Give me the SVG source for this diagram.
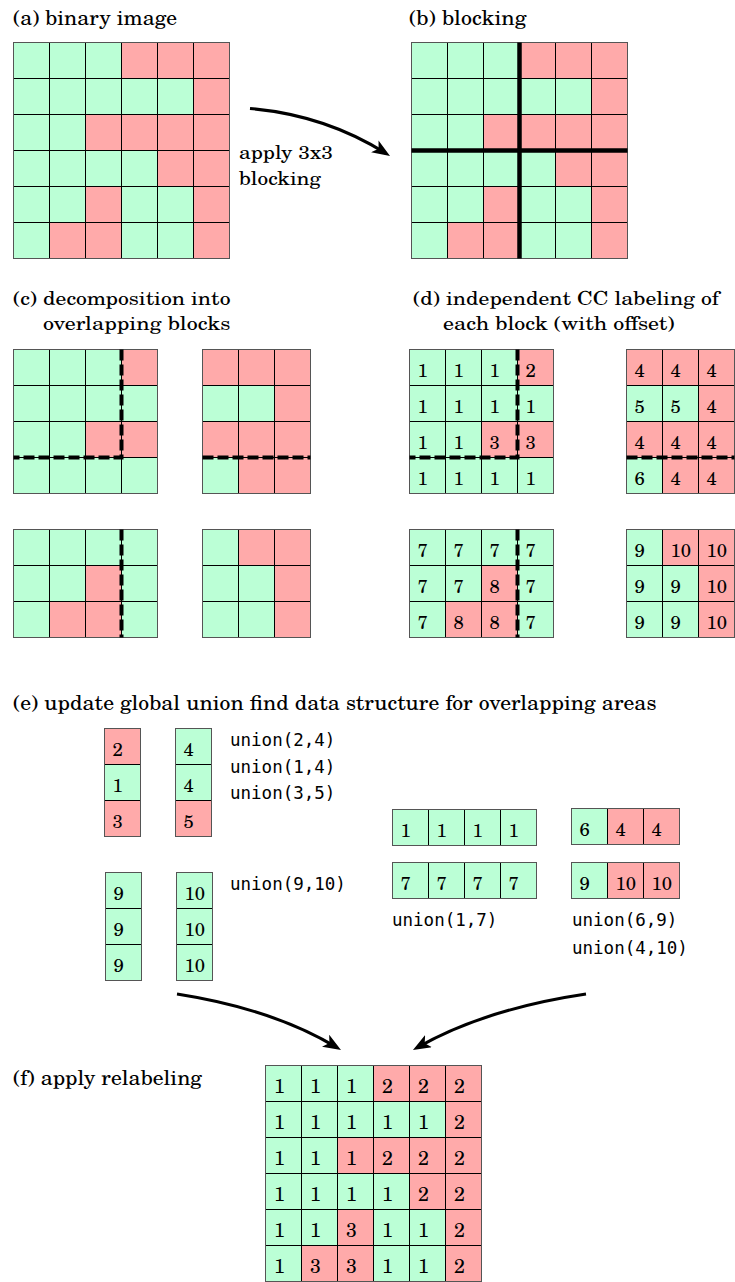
<svg xmlns="http://www.w3.org/2000/svg" width="735" height="1282" viewBox="0 0 735 1282">
  <style>
    .g { fill: #bbffd6; stroke: #000; stroke-width: 1; }
    .r { fill: #ffaaaa; stroke: #000; stroke-width: 1; }
    .frame { fill: none; stroke: #555; stroke-width: 1; }
    .t, .t2, .n, .nf { font-family: "C059", "TeX Gyre Schola", "Century Schoolbook L", "Century Schoolbook", "Liberation Serif", "DejaVu Serif", "Noto Serif", "Tinos", "Times New Roman", "Nimbus Roman", "FreeSerif", serif; fill: #000; }
    .t { font-size: 20px; }
    .t2 { font-size: 19px; }
    .n { font-size: 18.5px; }
    .nf { font-size: 19.5px; }
    .m { font-family: "DejaVu Sans Mono", "Liberation Mono", monospace; font-size: 17.5px; fill: #000; }
    .thick { stroke: #000; stroke-width: 4.5; }
    .dash { stroke: #000; stroke-width: 4; stroke-dasharray: 11 4; fill: none; }
    .arrow { fill: none; stroke: #000; stroke-width: 3; marker-end: url(#head); }
  </style>
  <defs>
    <rect id="G" class="g" width="36" height="36"/>
    <rect id="R" class="r" width="36" height="36"/>
    <marker id="head" viewBox="0 0 18 14" refX="13" refY="7" markerWidth="18" markerHeight="14" markerUnits="userSpaceOnUse" orient="auto">
      <path d="M0,0 L18,7 L0,14 L4.5,7 Z" fill="#000"/>
    </marker>
  </defs>

  <!-- panel titles and captions -->
  <g id="titles">
    <text class="t" x="13" y="25" textLength="164" lengthAdjust="spacingAndGlyphs">(a) binary image</text>
    <text class="t" x="409" y="25" textLength="117.5" lengthAdjust="spacingAndGlyphs">(b) blocking</text>
    <text class="t2"><tspan x="239" y="159" textLength="94" lengthAdjust="spacingAndGlyphs">apply 3x3</tspan><tspan x="239" y="184.5" textLength="82" lengthAdjust="spacingAndGlyphs">blocking</tspan></text>
    <text class="t2"><tspan x="13" y="304.5" textLength="217.5" lengthAdjust="spacingAndGlyphs">(c) decomposition into</tspan><tspan x="43" y="330" textLength="187.5" lengthAdjust="spacingAndGlyphs">overlapping blocks</tspan></text>
    <text class="t2"><tspan x="413" y="304.5" textLength="306" lengthAdjust="spacingAndGlyphs">(d) independent CC labeling of</tspan><tspan x="443" y="330" textLength="231.5" lengthAdjust="spacingAndGlyphs">each block (with offset)</tspan></text>
    <text class="t" x="13" y="710" textLength="643.5" lengthAdjust="spacingAndGlyphs">(e) update global union find data structure for overlapping areas</text>
    <text class="t" x="13" y="1085" textLength="189" lengthAdjust="spacingAndGlyphs">(f) apply relabeling</text>
  </g>

  <!-- (a) binary image -->
  <g id="binary-image" transform="translate(13.5,42.5)">
    <use href="#G" x="0" y="0"/><use href="#G" x="36" y="0"/><use href="#G" x="72" y="0"/><use href="#R" x="108" y="0"/><use href="#R" x="144" y="0"/><use href="#R" x="180" y="0"/>
    <use href="#G" x="0" y="36"/><use href="#G" x="36" y="36"/><use href="#G" x="72" y="36"/><use href="#G" x="108" y="36"/><use href="#G" x="144" y="36"/><use href="#R" x="180" y="36"/>
    <use href="#G" x="0" y="72"/><use href="#G" x="36" y="72"/><use href="#R" x="72" y="72"/><use href="#R" x="108" y="72"/><use href="#R" x="144" y="72"/><use href="#R" x="180" y="72"/>
    <use href="#G" x="0" y="108"/><use href="#G" x="36" y="108"/><use href="#G" x="72" y="108"/><use href="#G" x="108" y="108"/><use href="#R" x="144" y="108"/><use href="#R" x="180" y="108"/>
    <use href="#G" x="0" y="144"/><use href="#G" x="36" y="144"/><use href="#R" x="72" y="144"/><use href="#G" x="108" y="144"/><use href="#G" x="144" y="144"/><use href="#R" x="180" y="144"/>
    <use href="#G" x="0" y="180"/><use href="#R" x="36" y="180"/><use href="#R" x="72" y="180"/><use href="#G" x="108" y="180"/><use href="#G" x="144" y="180"/><use href="#R" x="180" y="180"/>
    <rect class="frame" width="216" height="216"/>
  </g>

  <!-- (b) blocking -->
  <g id="blocking" transform="translate(411.5,42.5)">
    <use href="#G" x="0" y="0"/><use href="#G" x="36" y="0"/><use href="#G" x="72" y="0"/><use href="#R" x="108" y="0"/><use href="#R" x="144" y="0"/><use href="#R" x="180" y="0"/>
    <use href="#G" x="0" y="36"/><use href="#G" x="36" y="36"/><use href="#G" x="72" y="36"/><use href="#G" x="108" y="36"/><use href="#G" x="144" y="36"/><use href="#R" x="180" y="36"/>
    <use href="#G" x="0" y="72"/><use href="#G" x="36" y="72"/><use href="#R" x="72" y="72"/><use href="#R" x="108" y="72"/><use href="#R" x="144" y="72"/><use href="#R" x="180" y="72"/>
    <use href="#G" x="0" y="108"/><use href="#G" x="36" y="108"/><use href="#G" x="72" y="108"/><use href="#G" x="108" y="108"/><use href="#R" x="144" y="108"/><use href="#R" x="180" y="108"/>
    <use href="#G" x="0" y="144"/><use href="#G" x="36" y="144"/><use href="#R" x="72" y="144"/><use href="#G" x="108" y="144"/><use href="#G" x="144" y="144"/><use href="#R" x="180" y="144"/>
    <use href="#G" x="0" y="180"/><use href="#R" x="36" y="180"/><use href="#R" x="72" y="180"/><use href="#G" x="108" y="180"/><use href="#G" x="144" y="180"/><use href="#R" x="180" y="180"/>
    <rect class="frame" width="216" height="216"/>
    <line class="thick" x1="108" y1="0" x2="108" y2="216"/>
    <line class="thick" x1="0" y1="108" x2="216" y2="108"/>
  </g>

  <!-- (c) overlapping blocks -->
  <g id="block-c-tl" transform="translate(13.5,349.5)">
    <use href="#G" x="0" y="0"/><use href="#G" x="36" y="0"/><use href="#G" x="72" y="0"/><use href="#R" x="108" y="0"/>
    <use href="#G" x="0" y="36"/><use href="#G" x="36" y="36"/><use href="#G" x="72" y="36"/><use href="#G" x="108" y="36"/>
    <use href="#G" x="0" y="72"/><use href="#G" x="36" y="72"/><use href="#R" x="72" y="72"/><use href="#R" x="108" y="72"/>
    <use href="#G" x="0" y="108"/><use href="#G" x="36" y="108"/><use href="#G" x="72" y="108"/><use href="#G" x="108" y="108"/>
    <rect class="frame" width="144" height="144"/>
    <path class="dash" d="M108,0 V108 H0"/>
  </g>
  <g id="block-c-tr" transform="translate(202.5,349.5)">
    <use href="#R" x="0" y="0"/><use href="#R" x="36" y="0"/><use href="#R" x="72" y="0"/>
    <use href="#G" x="0" y="36"/><use href="#G" x="36" y="36"/><use href="#R" x="72" y="36"/>
    <use href="#R" x="0" y="72"/><use href="#R" x="36" y="72"/><use href="#R" x="72" y="72"/>
    <use href="#G" x="0" y="108"/><use href="#R" x="36" y="108"/><use href="#R" x="72" y="108"/>
    <rect class="frame" width="108" height="144"/>
    <path class="dash" d="M0,108 H108"/>
  </g>
  <g id="block-c-bl" transform="translate(13.5,529.5)">
    <use href="#G" x="0" y="0"/><use href="#G" x="36" y="0"/><use href="#G" x="72" y="0"/><use href="#G" x="108" y="0"/>
    <use href="#G" x="0" y="36"/><use href="#G" x="36" y="36"/><use href="#R" x="72" y="36"/><use href="#G" x="108" y="36"/>
    <use href="#G" x="0" y="72"/><use href="#R" x="36" y="72"/><use href="#R" x="72" y="72"/><use href="#G" x="108" y="72"/>
    <rect class="frame" width="144" height="108"/>
    <path class="dash" d="M108,0 V108"/>
  </g>
  <g id="block-c-br" transform="translate(202.5,529.5)">
    <use href="#G" x="0" y="0"/><use href="#R" x="36" y="0"/><use href="#R" x="72" y="0"/>
    <use href="#G" x="0" y="36"/><use href="#G" x="36" y="36"/><use href="#R" x="72" y="36"/>
    <use href="#G" x="0" y="72"/><use href="#G" x="36" y="72"/><use href="#R" x="72" y="72"/>
    <rect class="frame" width="108" height="108"/>
  </g>

  <!-- (d) labeled blocks -->
  <g id="block-d-tl" transform="translate(409.5,349.5)">
    <use href="#G" x="0" y="0"/><use href="#G" x="36" y="0"/><use href="#G" x="72" y="0"/><use href="#R" x="108" y="0"/>
    <use href="#G" x="0" y="36"/><use href="#G" x="36" y="36"/><use href="#G" x="72" y="36"/><use href="#G" x="108" y="36"/>
    <use href="#G" x="0" y="72"/><use href="#G" x="36" y="72"/><use href="#R" x="72" y="72"/><use href="#R" x="108" y="72"/>
    <use href="#G" x="0" y="108"/><use href="#G" x="36" y="108"/><use href="#G" x="72" y="108"/><use href="#G" x="108" y="108"/>
    <rect class="frame" width="144" height="144"/>
    <path class="dash" d="M108,0 V108 H0"/>
    <text class="n" x="8" y="27.5">1</text><text class="n" x="44" y="27.5">1</text><text class="n" x="80" y="27.5">1</text><text class="n" x="116" y="27.5">2</text>
    <text class="n" x="8" y="63.5">1</text><text class="n" x="44" y="63.5">1</text><text class="n" x="80" y="63.5">1</text><text class="n" x="116" y="63.5">1</text>
    <text class="n" x="8" y="99.5">1</text><text class="n" x="44" y="99.5">1</text><text class="n" x="80" y="99.5">3</text><text class="n" x="116" y="99.5">3</text>
    <text class="n" x="8" y="135.5">1</text><text class="n" x="44" y="135.5">1</text><text class="n" x="80" y="135.5">1</text><text class="n" x="116" y="135.5">1</text>
  </g>
  <g id="block-d-tr" transform="translate(626.5,349.5)">
    <use href="#R" x="0" y="0"/><use href="#R" x="36" y="0"/><use href="#R" x="72" y="0"/>
    <use href="#G" x="0" y="36"/><use href="#G" x="36" y="36"/><use href="#R" x="72" y="36"/>
    <use href="#R" x="0" y="72"/><use href="#R" x="36" y="72"/><use href="#R" x="72" y="72"/>
    <use href="#G" x="0" y="108"/><use href="#R" x="36" y="108"/><use href="#R" x="72" y="108"/>
    <rect class="frame" width="108" height="144"/>
    <path class="dash" d="M0,108 H108"/>
    <text class="n" x="8" y="27.5">4</text><text class="n" x="44" y="27.5">4</text><text class="n" x="80" y="27.5">4</text>
    <text class="n" x="8" y="63.5">5</text><text class="n" x="44" y="63.5">5</text><text class="n" x="80" y="63.5">4</text>
    <text class="n" x="8" y="99.5">4</text><text class="n" x="44" y="99.5">4</text><text class="n" x="80" y="99.5">4</text>
    <text class="n" x="8" y="135.5">6</text><text class="n" x="44" y="135.5">4</text><text class="n" x="80" y="135.5">4</text>
  </g>
  <g id="block-d-bl" transform="translate(409.5,529.5)">
    <use href="#G" x="0" y="0"/><use href="#G" x="36" y="0"/><use href="#G" x="72" y="0"/><use href="#G" x="108" y="0"/>
    <use href="#G" x="0" y="36"/><use href="#G" x="36" y="36"/><use href="#R" x="72" y="36"/><use href="#G" x="108" y="36"/>
    <use href="#G" x="0" y="72"/><use href="#R" x="36" y="72"/><use href="#R" x="72" y="72"/><use href="#G" x="108" y="72"/>
    <rect class="frame" width="144" height="108"/>
    <path class="dash" d="M108,0 V108"/>
    <text class="n" x="8" y="27.5">7</text><text class="n" x="44" y="27.5">7</text><text class="n" x="80" y="27.5">7</text><text class="n" x="116" y="27.5">7</text>
    <text class="n" x="8" y="63.5">7</text><text class="n" x="44" y="63.5">7</text><text class="n" x="80" y="63.5">8</text><text class="n" x="116" y="63.5">7</text>
    <text class="n" x="8" y="99.5">7</text><text class="n" x="44" y="99.5">8</text><text class="n" x="80" y="99.5">8</text><text class="n" x="116" y="99.5">7</text>
  </g>
  <g id="block-d-br" transform="translate(626.5,529.5)">
    <use href="#G" x="0" y="0"/><use href="#R" x="36" y="0"/><use href="#R" x="72" y="0"/>
    <use href="#G" x="0" y="36"/><use href="#G" x="36" y="36"/><use href="#R" x="72" y="36"/>
    <use href="#G" x="0" y="72"/><use href="#G" x="36" y="72"/><use href="#R" x="72" y="72"/>
    <rect class="frame" width="108" height="108"/>
    <text class="n" x="8" y="27.5">9</text><text class="n" x="44" y="27.5">10</text><text class="n" x="80" y="27.5">10</text>
    <text class="n" x="8" y="63.5">9</text><text class="n" x="44" y="63.5">9</text><text class="n" x="80" y="63.5">10</text>
    <text class="n" x="8" y="99.5">9</text><text class="n" x="44" y="99.5">9</text><text class="n" x="80" y="99.5">10</text>
  </g>

  <!-- (e) overlap strips and union operations -->
  <g id="strip-e-col1" transform="translate(104.5,728.5)">
    <use href="#R" x="0" y="0"/><use href="#G" x="0" y="36"/><use href="#R" x="0" y="72"/>
    <rect class="frame" width="36" height="108"/>
    <text class="n" x="8" y="27">2</text><text class="n" x="8" y="63">1</text><text class="n" x="8" y="99">3</text>
  </g>
  <g id="strip-e-col2" transform="translate(175.5,728.5)">
    <use href="#G" x="0" y="0"/><use href="#G" x="0" y="36"/><use href="#R" x="0" y="72"/>
    <rect class="frame" width="36" height="108"/>
    <text class="n" x="8" y="27">4</text><text class="n" x="8" y="63">4</text><text class="n" x="8" y="99">5</text>
  </g>
  <g id="strip-e-col3" transform="translate(105.5,872.5)">
    <use href="#G" x="0" y="0"/><use href="#G" x="0" y="36"/><use href="#G" x="0" y="72"/>
    <rect class="frame" width="36" height="108"/>
    <text class="n" x="8" y="27">9</text><text class="n" x="8" y="63">9</text><text class="n" x="8" y="99">9</text>
  </g>
  <g id="strip-e-col4" transform="translate(176.5,872.5)">
    <use href="#G" x="0" y="0"/><use href="#G" x="0" y="36"/><use href="#G" x="0" y="72"/>
    <rect class="frame" width="36" height="108"/>
    <text class="n" x="8" y="27">10</text><text class="n" x="8" y="63">10</text><text class="n" x="8" y="99">10</text>
  </g>
  <g id="strip-e-row1" transform="translate(392.5,809.5)">
    <use href="#G" x="0" y="0"/><use href="#G" x="36" y="0"/><use href="#G" x="72" y="0"/><use href="#G" x="108" y="0"/>
    <rect class="frame" width="144" height="36"/>
    <text class="n" x="8" y="27">1</text><text class="n" x="44" y="27">1</text><text class="n" x="80" y="27">1</text><text class="n" x="116" y="27">1</text>
  </g>
  <g id="strip-e-row2" transform="translate(392.5,862.5)">
    <use href="#G" x="0" y="0"/><use href="#G" x="36" y="0"/><use href="#G" x="72" y="0"/><use href="#G" x="108" y="0"/>
    <rect class="frame" width="144" height="36"/>
    <text class="n" x="8" y="27">7</text><text class="n" x="44" y="27">7</text><text class="n" x="80" y="27">7</text><text class="n" x="116" y="27">7</text>
  </g>
  <g id="strip-e-row3" transform="translate(571.5,808.5)">
    <use href="#G" x="0" y="0"/><use href="#R" x="36" y="0"/><use href="#R" x="72" y="0"/>
    <rect class="frame" width="108" height="36"/>
    <text class="n" x="8" y="27">6</text><text class="n" x="44" y="27">4</text><text class="n" x="80" y="27">4</text>
  </g>
  <g id="strip-e-row4" transform="translate(571.5,862.5)">
    <use href="#G" x="0" y="0"/><use href="#R" x="36" y="0"/><use href="#R" x="72" y="0"/>
    <rect class="frame" width="108" height="36"/>
    <text class="n" x="8" y="27">9</text><text class="n" x="44" y="27">10</text><text class="n" x="80" y="27">10</text>
  </g>
  <g id="unions">
    <text class="m" x="230" y="746">union(2,4)</text>
    <text class="m" x="230" y="772.5">union(1,4)</text>
    <text class="m" x="230" y="799">union(3,5)</text>
    <text class="m" x="230" y="890">union(9,10)</text>
    <text class="m" x="392" y="926">union(1,7)</text>
    <text class="m" x="572" y="926">union(6,9)</text>
    <text class="m" x="572" y="954">union(4,10)</text>
  </g>

  <!-- (f) relabeled image -->
  <g id="relabeled" transform="translate(265.5,1065.5)">
    <use href="#G" x="0" y="0"/><use href="#G" x="36" y="0"/><use href="#G" x="72" y="0"/><use href="#R" x="108" y="0"/><use href="#R" x="144" y="0"/><use href="#R" x="180" y="0"/>
    <use href="#G" x="0" y="36"/><use href="#G" x="36" y="36"/><use href="#G" x="72" y="36"/><use href="#G" x="108" y="36"/><use href="#G" x="144" y="36"/><use href="#R" x="180" y="36"/>
    <use href="#G" x="0" y="72"/><use href="#G" x="36" y="72"/><use href="#R" x="72" y="72"/><use href="#R" x="108" y="72"/><use href="#R" x="144" y="72"/><use href="#R" x="180" y="72"/>
    <use href="#G" x="0" y="108"/><use href="#G" x="36" y="108"/><use href="#G" x="72" y="108"/><use href="#G" x="108" y="108"/><use href="#R" x="144" y="108"/><use href="#R" x="180" y="108"/>
    <use href="#G" x="0" y="144"/><use href="#G" x="36" y="144"/><use href="#R" x="72" y="144"/><use href="#G" x="108" y="144"/><use href="#G" x="144" y="144"/><use href="#R" x="180" y="144"/>
    <use href="#G" x="0" y="180"/><use href="#R" x="36" y="180"/><use href="#R" x="72" y="180"/><use href="#G" x="108" y="180"/><use href="#G" x="144" y="180"/><use href="#R" x="180" y="180"/>
    <rect class="frame" width="216" height="216"/>
    <text class="nf" x="8.5" y="27.5">1</text><text class="nf" x="44.5" y="27.5">1</text><text class="nf" x="80.5" y="27.5">1</text><text class="nf" x="116.5" y="27.5">2</text><text class="nf" x="152.5" y="27.5">2</text><text class="nf" x="188.5" y="27.5">2</text>
    <text class="nf" x="8.5" y="63.5">1</text><text class="nf" x="44.5" y="63.5">1</text><text class="nf" x="80.5" y="63.5">1</text><text class="nf" x="116.5" y="63.5">1</text><text class="nf" x="152.5" y="63.5">1</text><text class="nf" x="188.5" y="63.5">2</text>
    <text class="nf" x="8.5" y="99.5">1</text><text class="nf" x="44.5" y="99.5">1</text><text class="nf" x="80.5" y="99.5">1</text><text class="nf" x="116.5" y="99.5">2</text><text class="nf" x="152.5" y="99.5">2</text><text class="nf" x="188.5" y="99.5">2</text>
    <text class="nf" x="8.5" y="135.5">1</text><text class="nf" x="44.5" y="135.5">1</text><text class="nf" x="80.5" y="135.5">1</text><text class="nf" x="116.5" y="135.5">1</text><text class="nf" x="152.5" y="135.5">2</text><text class="nf" x="188.5" y="135.5">2</text>
    <text class="nf" x="8.5" y="171.5">1</text><text class="nf" x="44.5" y="171.5">1</text><text class="nf" x="80.5" y="171.5">3</text><text class="nf" x="116.5" y="171.5">1</text><text class="nf" x="152.5" y="171.5">1</text><text class="nf" x="188.5" y="171.5">2</text>
    <text class="nf" x="8.5" y="207.5">1</text><text class="nf" x="44.5" y="207.5">3</text><text class="nf" x="80.5" y="207.5">3</text><text class="nf" x="116.5" y="207.5">1</text><text class="nf" x="152.5" y="207.5">1</text><text class="nf" x="188.5" y="207.5">2</text>
  </g>

  <!-- connectors -->
  <g id="connectors">
    <path class="arrow" d="M250,108.5 Q325,115 385.8,153.3"/>
    <path class="arrow" d="M177,994 Q273,1009 336.7,1047.4"/>
    <path class="arrow" d="M586,994 Q485,1009 417.3,1047.5"/>
  </g>
</svg>
